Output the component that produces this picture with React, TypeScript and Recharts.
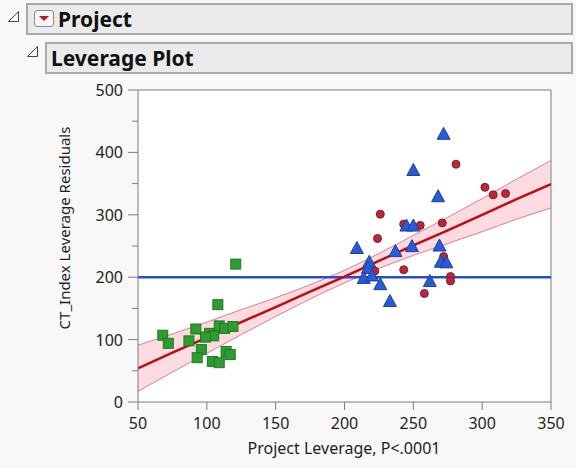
import React from "react";
import {
  ComposedChart,
  Scatter,
  Line,
  Area,
  XAxis,
  YAxis,
  CartesianGrid,
  ReferenceLine,
} from "recharts";

// ── Data ─────────────────────────────────────────────────────────────

const xTicks = [50, 100, 150, 200, 250, 300, 350];
const yTicks = [0, 50, 100, 150, 200, 250, 300, 350, 400, 450, 500];

// fitted line + confidence band
const fitX = [50, 75, 100, 125, 150, 175, 200, 225, 250, 275, 300, 325, 350];
const fitY = [54, 79, 103, 128, 152, 177, 201, 226, 251, 275, 300, 325, 349];
const upperY = [91, 109, 128, 148, 167, 188, 211, 238, 267, 296, 326, 357, 387];
const lowerY = [17, 48, 78, 108, 137, 165, 191, 214, 235, 254, 273, 293, 311];

const meanX = [50, 350];
const meanY = 200;

// group A (green squares)
const greenX = [121, 108, 92, 87, 68, 72, 102, 105, 109, 113, 119, 96, 93, 104, 109, 114, 117, 99];
const greenY = [221, 156, 117, 98, 107, 94, 110, 106, 122, 118, 121, 84, 71, 65, 63, 81, 76, 104];

// group B (blue triangles)
const blueX = [272, 250, 268, 245, 250, 209, 237, 249, 269, 218, 217, 270, 274, 214, 220, 226, 262, 233];
const blueY = [429, 371, 329, 282, 282, 246, 241, 249, 250, 224, 214, 224, 223, 198, 202, 188, 193, 161];

// group C (red circles)
const redX = [281, 302, 308, 317, 226, 243, 255, 271, 224, 243, 222, 272, 277, 277, 258];
const redY = [381, 344, 332, 334, 301, 285, 283, 287, 262, 212, 210, 233, 201, 194, 174];

const zip = (xs: number[], ys: number[]) => xs.map((x, i) => ({ x, y: ys[i] }));

const greenData = zip(greenX, greenY);
const blueData = zip(blueX, blueY);
const redData = zip(redX, redY);
const fitData = zip(fitX, fitY);
const bandData = fitX.map((x, i) => ({ x, range: [lowerY[i], upperY[i]], hi: upperY[i], lo: lowerY[i] }));
const meanData = meanX.map((x) => ({ x, y: meanY }));

// ── Styles ───────────────────────────────────────────────────────────

const FONT = '"Noto Sans", "Open Sans", sans-serif';
const TEXT = "#1e1e1e";
const AXIS = "#7d7d7d";

// ── Marks ────────────────────────────────────────────────────────────

function SquareDot(props: any) {
  const { cx, cy } = props;
  return <rect x={cx - 5} y={cy - 5} width={10} height={10} fill="#2e9c32" stroke="#1d7a20" strokeWidth={1} />;
}

function TriangleDot(props: any) {
  const { cx, cy } = props;
  return (
    <polygon
      points={`${cx},${cy - 7} ${cx + 6.5},${cy + 5} ${cx - 6.5},${cy + 5}`}
      fill="#2a5ad6"
      stroke="#1c409f"
      strokeWidth={1}
    />
  );
}

function CircleDot(props: any) {
  const { cx, cy } = props;
  return <circle cx={cx} cy={cy} r={4} fill="#b7283a" stroke="#8c1726" strokeWidth={1} />;
}

// ── Ticks ────────────────────────────────────────────────────────────

function YTick(props: any) {
  const { x, y, payload } = props;
  const major = payload.value % 100 === 0;
  return (
    <g>
      <line x1={x} x2={x - (major ? 10 : 6)} y1={y} y2={y} stroke={AXIS} />
      {major && (
        <text x={x - 15} y={y} textAnchor="end" dominantBaseline="central" fontSize={16} fill={TEXT} fontFamily={FONT}>
          {payload.value}
        </text>
      )}
    </g>
  );
}

function XTick(props: any) {
  const { x, y, payload } = props;
  return (
    <g>
      <line x1={x} x2={x} y1={y} y2={y + 8} stroke={AXIS} />
      <text x={x} y={y + 21} textAnchor="middle" dominantBaseline="central" fontSize={16} fill={TEXT} fontFamily={FONT}>
        {payload.value}
      </text>
    </g>
  );
}

// ── Header bits ──────────────────────────────────────────────────────

function Disclosure({ left, top }: { left: number; top: number }) {
  return (
    <svg style={{ position: "absolute", left, top }} width={11} height={11}>
      <polygon points="0.5,10.5 10.5,10.5 10.5,0.5" fill="none" stroke="#444" strokeWidth={1} />
    </svg>
  );
}

function HeaderBox({ left, top, height, children }: { left: number; top: number; height: number; children: React.ReactNode }) {
  return (
    <div
      style={{
        position: "absolute",
        left,
        top,
        width: 573 - left,
        height,
        boxSizing: "border-box",
        background: "#ebebeb",
        border: "2px solid #a9a9a9",
      }}
    >
      {children}
    </div>
  );
}

// ── Component ────────────────────────────────────────────────────────

export default function App() {
  return (
    <div style={{ position: "absolute", left: 0, top: 0, width: 576, height: 468, background: "#f8f8f8", overflow: "hidden" }}>
      <Disclosure left={8} top={11} />
      <HeaderBox left={26} top={3} height={32}>
        <div
          style={{
            position: "absolute",
            left: 6,
            top: 5,
            width: 20,
            height: 17,
            boxSizing: "border-box",
            border: "1px solid #8a8a8a",
            borderRadius: 3,
            background: "#f7f7f7",
          }}
        >
          <svg width={18} height={15} style={{ position: "absolute", left: 0, top: 0 }}>
            <polygon points="4,5 14,5 9,10" fill="#c0141e" />
          </svg>
        </div>
        <div style={{ position: "absolute", left: 30, top: 0, lineHeight: "28px", fontFamily: FONT, fontWeight: 700, fontSize: 21, color: "#111" }}>
          Project
        </div>
      </HeaderBox>

      <Disclosure left={27} top={46} />
      <HeaderBox left={45} top={42} height={32}>
        <div style={{ position: "absolute", left: 4, top: 0, lineHeight: "28px", fontFamily: FONT, fontWeight: 700, fontSize: 21, color: "#111" }}>
          Leverage Plot
        </div>
      </HeaderBox>

      <div style={{ position: "absolute", left: 0, top: 0 }}>
        <ComposedChart width={576} height={468} margin={{ top: 90, right: 25, bottom: 0, left: 0 }}>
          <CartesianGrid horizontal={false} vertical={false} fill="#ffffff" />
          <XAxis
            type="number"
            dataKey="x"
            domain={[50, 350]}
            ticks={xTicks}
            height={66}
            tickSize={0}
            tickMargin={0}
            tickLine={false}
            axisLine={{ stroke: AXIS }}
            tick={<XTick />}
            allowDataOverflow
            label={{
              content: () => (
                <text x={344} y={448} textAnchor="middle" dominantBaseline="central" fontSize={16} fill={TEXT} fontFamily={FONT}>
                  Project Leverage, P&lt;.0001
                </text>
              ),
            }}
          />
          <YAxis
            type="number"
            dataKey="y"
            domain={[0, 500]}
            ticks={yTicks}
            width={138}
            tickSize={0}
            tickMargin={0}
            tickLine={false}
            axisLine={{ stroke: AXIS }}
            tick={<YTick />}
            allowDataOverflow
            label={{
              content: () => (
                <text
                  x={64}
                  y={228}
                  transform="rotate(-90 64 228)"
                  textAnchor="middle"
                  dominantBaseline="central"
                  fontSize={15}
                  fill={TEXT}
                  fontFamily={FONT}
                >
                  CT_Index Leverage Residuals
                </text>
              ),
            }}
          />
          <ReferenceLine y={500} stroke="#a6a6a6" strokeWidth={1.5} />
          <ReferenceLine x={350} stroke="#a6a6a6" strokeWidth={1.5} />

          <Area
            data={bandData}
            dataKey="range"
            type="monotone"
            fill="#fbd3d8"
            fillOpacity={0.8}
            stroke="none"
            isAnimationActive={false}
          />
          <Line data={bandData} dataKey="hi" type="monotone" stroke="#e07c89" strokeWidth={1} dot={false} isAnimationActive={false} />
          <Line data={bandData} dataKey="lo" type="monotone" stroke="#e07c89" strokeWidth={1} dot={false} isAnimationActive={false} />
          <Line data={meanData} dataKey="y" stroke="#2152c9" strokeWidth={2.5} dot={false} isAnimationActive={false} />
          <Line data={fitData} dataKey="y" stroke="#c20a12" strokeWidth={2.5} dot={false} isAnimationActive={false} />

          <Scatter data={greenData} shape={<SquareDot />} isAnimationActive={false} />
          <Scatter data={redData} shape={<CircleDot />} isAnimationActive={false} />
          <Scatter data={blueData} shape={<TriangleDot />} isAnimationActive={false} />
        </ComposedChart>
      </div>
    </div>
  );
}
